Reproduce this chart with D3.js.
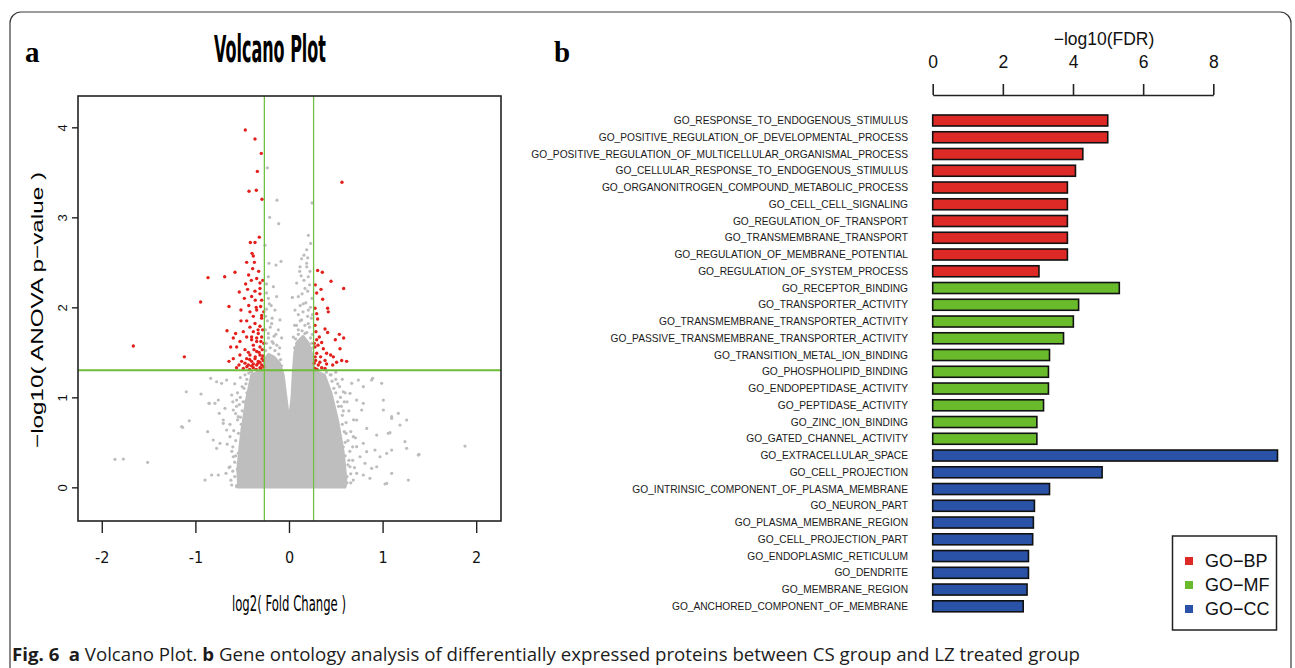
<!DOCTYPE html>
<html lang="en">
<head>
<meta charset="UTF-8" />
<title>Fig. 6</title>
<style>
  body { margin: 0; background: #fff; }
  svg { display: block; }
</style>
</head>
<body>
<svg id="fig" width="1295" height="668"></svg>
<script src="https://d3js.org/d3.v7.min.js"></script>
<script>
// ---- panel a: volcano plot data (log2 fold change, -log10 p) ----
const xTicks = [-2, -1, 0, 1, 2];
const yTicks = [0, 1, 2, 3, 4];
const fcCut = 0.263;   // log2(1.2)
const pCut = 1.301;    // -log10(0.05)

// outline of the dense grey cloud of non-significant proteins
const coreOutline = [
  [-0.54, 0.0], [-0.55, 0.2], [-0.51, 0.6], [-0.46, 0.95], [-0.40, 1.25],
  [-0.30, 1.30], [-0.264, 1.30], [-0.262, 1.42], [-0.22, 1.48], [-0.16, 1.45],
  [-0.10, 1.38], [-0.06, 1.25], [-0.03, 1.0], [0.0, 0.74], [0.03, 1.0],
  [0.045, 1.3], [0.06, 1.5], [0.09, 1.62], [0.15, 1.68], [0.21, 1.60],
  [0.255, 1.45], [0.265, 1.3], [0.38, 1.25], [0.45, 1.05], [0.52, 0.75],
  [0.58, 0.4], [0.61, 0.1], [0.60, 0.0]
];

const greyPoints = [
  // sparse points above the p cut-off
  [-0.231, 3.55], [-0.128, 3.19], [-0.207, 3.00], [-0.110, 2.93], [0.246, 3.16],
  [-0.256, 2.69], [-0.214, 2.49], [-0.139, 2.47], [-0.085, 2.51], [0.207, 2.80],
  [0.189, 2.64], [0.231, 2.71], [0.135, 2.54], [0.118, 2.45], [0.189, 2.49],
  [0.224, 2.40], [0.114, 2.40], [0.206, 2.34], [-0.221, 2.34], [-0.167, 2.23],
  [-0.239, 2.16], [-0.132, 2.12], [-0.210, 2.04], [-0.150, 1.97], [-0.096, 1.86],
  [-0.185, 1.82], [0.082, 2.27], [0.171, 2.21], [0.100, 2.12], [0.153, 2.04],
  [0.207, 1.97], [0.064, 1.97], [0.135, 1.86], [0.206, 1.82], [0.036, 2.11],
  [-0.114, 1.75], [-0.221, 1.71], [-0.078, 1.66], [-0.167, 1.60], [0.100, 1.75],
  [0.046, 1.67], [0.171, 1.71], [0.242, 1.60], [0.082, 1.60], [-0.250, 1.90],
  [-0.240, 2.26], [0.245, 2.10], [0.25, 1.92], [-0.10, 1.55], [0.06, 1.80],
  // left lobe
  [-0.25, 1.52], [-0.20, 1.55], [-0.15, 1.52], [-0.11, 1.48], [-0.24, 1.60],
  [-0.18, 1.62], [-0.13, 1.58], [-0.22, 1.66], [-0.16, 1.68], [-0.25, 1.75],
  [-0.20, 1.78], [-0.14, 1.70], [-0.23, 1.85], [-0.18, 1.88], [-0.24, 1.98],
  [-0.19, 2.02], [-0.22, 2.10], [-0.09, 1.42], [-0.08, 1.35], [-0.12, 1.40],
  // right lobe
  [0.06, 1.55], [0.10, 1.70], [0.14, 1.74], [0.19, 1.72], [0.23, 1.66],
  [0.08, 1.80], [0.12, 1.85], [0.17, 1.80], [0.22, 1.78], [0.25, 1.70],
  [0.10, 1.92], [0.15, 1.95], [0.20, 1.90], [0.24, 1.88], [0.12, 2.02],
  [0.18, 2.05], [0.23, 2.00], [0.14, 2.15], [0.20, 2.18], [0.16, 2.30],
  [0.22, 2.25], [0.13, 2.35], [0.19, 2.45], [0.16, 2.58], [0.20, 2.55],
  [0.07, 1.65], [0.25, 1.55],
  // scattered, left
  [-1.859, 0.311], [-1.770, 0.314], [-1.510, 0.278], [-1.097, 1.062], [-0.940, 1.037],
  [-1.136, 0.667], [-1.065, 0.740], [-0.897, 0.081], [-0.869, 0.618], [-0.851, 0.933],
  [-0.837, 1.211], [-0.773, 1.173], [-0.720, 1.156], [-0.666, 1.192], [-0.809, 0.526],
  [-0.773, 0.433], [-0.737, 0.489], [-0.791, 0.933], [-0.745, 0.822], [-0.684, 0.878],
  [-0.755, 0.137], [-0.673, 0.156], [-0.702, 0.711], [-0.666, 0.637], [-0.630, 0.563],
  [-0.612, 0.026], [-0.559, 0.007], [-0.595, 0.340], [-0.542, 0.267], [-0.630, 0.229],
  [-0.612, 1.026], [-0.559, 0.970], [-0.595, 0.859], [-0.542, 0.785], [-1.147, 0.674],
  [-0.826, 0.137], [-0.855, 0.933], [-0.755, 0.970], [-0.702, 0.748],
  // scattered, right
  [0.580, 1.062], [0.670, 1.156], [0.741, 1.192], [0.794, 1.118], [0.894, 1.211],
  [0.990, 1.156], [1.008, 0.970], [1.008, 0.859], [1.097, 0.785], [1.168, 0.822],
  [1.257, 0.748], [0.830, 0.655], [0.937, 0.581], [1.061, 0.600], [1.186, 0.692],
  [1.239, 0.507], [1.257, 0.433], [0.919, 0.414], [0.972, 0.340], [1.044, 0.378],
  [1.097, 0.414], [1.381, 0.359], [1.880, 0.459], [1.275, 0.081], [1.026, 0.037],
  [1.097, 0.156], [0.937, 0.229], [0.865, 0.100], [0.794, 0.137], [0.723, 0.970],
  [0.777, 0.859], [0.723, 0.748], [0.652, 1.044], [0.794, 0.933], [0.687, 0.563],
  [0.723, 0.452], [0.759, 0.340], [0.812, 0.267], [0.652, 0.229], [0.723, 0.156],
  [0.687, 0.081], [1.389, 0.367], [0.883, 1.193], [1.097, 0.767], [1.079, 0.607],
  [1.044, 0.044], [0.883, 0.211], [0.794, 0.489], [0.830, 0.396],
  // fuzzy edge of the cloud
  [-0.53, 0.05], [-0.55, 0.2], [-0.52, 0.45], [-0.54, 0.6], [-0.50, 0.85],
  [-0.48, 1.1], [-0.45, 1.2], [-0.43, 1.27], [-0.52, 1.0], [-0.57, 0.35],
  [-0.49, 0.55], [0.62, 0.05], [0.63, 0.25], [0.60, 0.5], [0.57, 0.7],
  [0.53, 0.9], [0.48, 1.1], [0.44, 1.25], [0.61, 0.6], [0.66, 0.15],
  [0.55, 1.0], [-0.58, 0.12], [-0.51, 0.7], [-0.47, 0.95], [0.58, 0.85],
  [0.65, 0.4], [0.52, 1.15], [-0.40, 1.28], [0.40, 1.28], [-0.56, 0.9],
  [-0.46, 1.15], [0.50, 1.2], [0.59, 0.95], [-0.60, 0.45], [0.68, 0.3],
  [-0.62, 0.08], [-0.60, 0.18], [-0.58, 0.28], [-0.61, 0.40], [-0.57, 0.52],
  [-0.59, 0.63], [-0.55, 0.75], [-0.57, 0.82], [-0.53, 0.92], [-0.55, 1.05],
  [-0.50, 1.12], [-0.52, 1.22], [-0.47, 1.25], [-0.45, 1.05], [-0.49, 0.95],
  [-0.52, 0.78], [-0.54, 0.38], [-0.53, 0.22], [-0.51, 0.10], [-0.56, 0.02],
  [-0.64, 0.22], [-0.66, 0.48], [-0.63, 0.70], [-0.60, 0.95], [-0.58, 1.15],
  [-0.50, 0.65], [-0.52, 0.30], [-0.48, 0.40],
  [0.62, 0.12], [0.64, 0.30], [0.60, 0.35], [0.63, 0.52], [0.59, 0.62],
  [0.61, 0.72], [0.57, 0.80], [0.56, 0.90], [0.60, 1.05], [0.54, 1.12],
  [0.50, 1.05], [0.46, 1.18], [0.50, 1.28], [0.57, 1.20], [0.66, 0.62],
  [0.68, 0.45], [0.70, 0.22], [0.59, 0.25], [0.58, 0.45], [0.53, 0.65],
  [0.55, 0.55], [0.64, 0.85], [0.62, 0.95], [0.52, 0.95], [0.45, 1.25],
  [0.69, 0.75], [0.71, 0.55], [0.60, 0.02], [0.66, 0.05]
];

const sigPoints = [
  [-0.467, 3.97], [-0.363, 3.87], [-0.296, 3.71], [-0.338, 3.51], [-0.427, 3.29],
  [-0.349, 3.30], [-0.288, 3.20], [0.566, 3.39], [-0.317, 2.78], [-0.413, 2.72],
  [-0.363, 2.72], [-0.395, 2.60], [-0.381, 2.57], [-0.452, 2.50], [-0.370, 2.50],
  [-0.388, 2.43], [-0.577, 2.39], [-0.687, 2.34], [-0.865, 2.33], [-0.431, 2.36],
  [-0.324, 2.40], [-0.402, 2.30], [-0.345, 2.32], [-0.463, 2.26], [-0.310, 2.27],
  [-0.531, 2.17], [-0.442, 2.20], [-0.363, 2.18], [-0.399, 2.12], [-0.310, 2.15],
  [-0.477, 2.10], [-0.360, 2.08], [-0.944, 2.06], [-0.641, 2.01], [-0.303, 2.01],
  [-0.513, 1.97], [-0.417, 1.95], [-0.345, 1.97], [-0.381, 1.90], [-0.292, 1.91],
  [-0.452, 1.85], [-0.513, 1.85], [-0.363, 1.82], [-0.417, 1.78], [-0.310, 1.79],
  [-0.662, 1.74], [-0.570, 1.71], [-0.488, 1.73], [-0.381, 1.73], [-0.328, 1.71],
  [-0.595, 1.66], [-0.452, 1.67], [-0.292, 1.67], [-0.524, 1.62], [-0.399, 1.64],
  [-0.345, 1.62], [-1.663, 1.57], [-0.623, 1.56], [-0.559, 1.56], [-0.381, 1.58],
  [-0.310, 1.56], [-0.470, 1.53], [-0.345, 1.51], [-1.118, 1.45], [-0.524, 1.47],
  [-0.417, 1.47], [-0.310, 1.47], [-0.595, 1.43], [-0.452, 1.43], [-0.363, 1.43],
  [-0.288, 1.43], [-0.641, 1.40], [-0.506, 1.40], [-0.399, 1.40], [-0.328, 1.40],
  [-0.534, 1.36], [-0.434, 1.36], [-0.345, 1.36], [-0.292, 1.36], [-0.488, 1.32],
  [-0.381, 1.33], [-0.310, 1.33], [-0.470, 1.38], [-0.381, 1.37], [-0.310, 1.39],
  [-0.274, 1.41], [-0.434, 1.50], [-0.374, 1.53], [-0.320, 1.50], [-0.285, 1.53],
  [-0.399, 1.67], [-0.345, 1.66], [-0.292, 1.88], [-0.281, 1.75], [-0.310, 2.21],
  [-0.292, 2.08], [-0.42, 1.31], [-0.35, 1.31], [-0.30, 1.32], [-0.27, 1.34],
  [-0.45, 1.34], [-0.56, 1.33], [-0.40, 1.35], [-0.33, 1.38], [-0.28, 1.46],
  [-0.36, 1.45], [-0.42, 1.42], [-0.30, 1.62], [-0.27, 1.60], [-0.33, 1.75],
  [-0.27, 1.95], [-0.35, 2.00], [-0.43, 2.02], [-0.28, 2.30],
  [0.306, 2.41], [0.356, 2.39], [0.449, 2.29], [0.281, 2.25], [0.342, 2.20],
  [0.584, 2.21], [0.296, 2.16], [0.360, 2.09], [0.278, 1.99], [0.413, 1.99],
  [0.296, 1.93], [0.420, 1.95], [0.306, 1.87], [0.278, 1.80], [0.385, 1.76],
  [0.413, 1.72], [0.538, 1.70], [0.288, 1.73], [0.324, 1.67], [0.584, 1.66],
  [0.495, 1.64], [0.296, 1.64], [0.349, 1.61], [0.278, 1.56], [0.367, 1.54],
  [0.545, 1.54], [0.402, 1.49], [0.445, 1.47], [0.296, 1.49], [0.338, 1.45],
  [0.474, 1.45], [0.285, 1.41], [0.385, 1.41], [0.563, 1.41], [0.616, 1.40],
  [0.313, 1.36], [0.402, 1.37], [0.467, 1.36], [0.509, 1.39], [0.278, 1.32],
  [0.349, 1.33], [0.385, 1.32], [0.27, 1.38], [0.30, 1.31], [0.33, 1.39],
  [0.28, 1.45], [0.27, 1.60], [0.31, 1.58]
];

// ---- panel b: GO enrichment (-log10 FDR) ----
const bpTerms = [
  'GO_RESPONSE_TO_ENDOGENOUS_STIMULUS',
  'GO_POSITIVE_REGULATION_OF_DEVELOPMENTAL_PROCESS',
  'GO_POSITIVE_REGULATION_OF_MULTICELLULAR_ORGANISMAL_PROCESS',
  'GO_CELLULAR_RESPONSE_TO_ENDOGENOUS_STIMULUS',
  'GO_ORGANONITROGEN_COMPOUND_METABOLIC_PROCESS',
  'GO_CELL_CELL_SIGNALING',
  'GO_REGULATION_OF_TRANSPORT',
  'GO_TRANSMEMBRANE_TRANSPORT',
  'GO_REGULATION_OF_MEMBRANE_POTENTIAL',
  'GO_REGULATION_OF_SYSTEM_PROCESS'
];
const bpValues = [4.99, 4.99, 4.28, 4.07, 3.84, 3.84, 3.84, 3.84, 3.84, 3.03];

const mfTerms = [
  'GO_RECEPTOR_BINDING',
  'GO_TRANSPORTER_ACTIVITY',
  'GO_TRANSMEMBRANE_TRANSPORTER_ACTIVITY',
  'GO_PASSIVE_TRANSMEMBRANE_TRANSPORTER_ACTIVITY',
  'GO_TRANSITION_METAL_ION_BINDING',
  'GO_PHOSPHOLIPID_BINDING',
  'GO_ENDOPEPTIDASE_ACTIVITY',
  'GO_PEPTIDASE_ACTIVITY',
  'GO_ZINC_ION_BINDING',
  'GO_GATED_CHANNEL_ACTIVITY'
];
const mfValues = [5.32, 4.16, 4.01, 3.73, 3.33, 3.30, 3.30, 3.16, 2.97, 2.97];

const ccTerms = [
  'GO_EXTRACELLULAR_SPACE',
  'GO_CELL_PROJECTION',
  'GO_INTRINSIC_COMPONENT_OF_PLASMA_MEMBRANE',
  'GO_NEURON_PART',
  'GO_PLASMA_MEMBRANE_REGION',
  'GO_CELL_PROJECTION_PART',
  'GO_ENDOPLASMIC_RETICULUM',
  'GO_DENDRITE',
  'GO_MEMBRANE_REGION',
  'GO_ANCHORED_COMPONENT_OF_MEMBRANE'
];
const ccValues = [9.83, 4.83, 3.33, 2.90, 2.87, 2.85, 2.73, 2.73, 2.69, 2.58];

const groupNames = ['GO\u2212BP', 'GO\u2212MF', 'GO\u2212CC'];
const fdrTicks = [0, 2, 4, 6, 8];

// ---- drawing ----
const colors = ['#de2a26', '#69bb2c', '#2a52a6'];
const narrow = '"Liberation Sans Narrow", "DejaVu Sans Condensed", "Liberation Sans", sans-serif';
const sans = '"Liberation Sans", Arial, sans-serif';
const svg = d3.select('#fig');

// outer frame of the figure
svg.append('rect')
  .attr('x', 10).attr('y', 12).attr('width', 1281).attr('height', 720)
  .attr('rx', 11)
  .attr('fill', 'none').attr('stroke', '#3a3a3a').attr('stroke-width', 1.2);

// panel letters
svg.append('text').attr('x', 25).attr('y', 62)
  .attr('font-family', '"Liberation Serif", serif').attr('font-weight', 'bold')
  .attr('font-size', 29).text('a');
svg.append('text').attr('x', 554).attr('y', 62)
  .attr('font-family', '"Liberation Serif", serif').attr('font-weight', 'bold')
  .attr('font-size', 29).text('b');

// ---------- volcano ----------
const vx = d3.scaleLinear().domain([-2.254, 2.265]).range([78, 501]);
const vy = d3.scaleLinear().domain([-0.374, 4.348]).range([521, 96]);

const volcano = svg.append('g');
volcano.append('clipPath').attr('id', 'vclip')
  .append('rect').attr('x', 78).attr('y', 96).attr('width', 423).attr('height', 425);
const plot = volcano.append('g').attr('clip-path', 'url(#vclip)');

plot.append('path')
  .attr('d', d3.line().x(d => vx(d[0])).y(d => vy(d[1])).curve(d3.curveLinearClosed)(coreOutline))
  .attr('fill', '#bebebe').attr('stroke', '#bebebe').attr('stroke-width', 2.5)
  .attr('stroke-linejoin', 'round');

plot.selectAll('.grey').data(greyPoints).join('circle')
  .attr('cx', d => vx(d[0])).attr('cy', d => vy(d[1])).attr('r', 1.6)
  .attr('fill', '#bdbdbd');

plot.selectAll('.sig').data(sigPoints).join('circle')
  .attr('cx', d => vx(d[0])).attr('cy', d => vy(d[1])).attr('r', 1.7)
  .attr('fill', '#e3201c');

// threshold lines
[-fcCut, fcCut].forEach(v => {
  plot.append('line')
    .attr('x1', vx(v)).attr('x2', vx(v)).attr('y1', 96).attr('y2', 521)
    .attr('stroke', '#74c043').attr('stroke-width', 1.3);
});
plot.append('line')
  .attr('x1', 78).attr('x2', 501).attr('y1', vy(pCut)).attr('y2', vy(pCut))
  .attr('stroke', '#6dbd3a').attr('stroke-width', 2);

volcano.append('rect')
  .attr('x', 78).attr('y', 96).attr('width', 423).attr('height', 425)
  .attr('fill', 'none').attr('stroke', '#222').attr('stroke-width', 1.6);

const xAxis = volcano.append('g')
  .attr('transform', 'translate(0,521)')
  .call(d3.axisBottom(vx).tickValues(xTicks).tickSize(12).tickSizeOuter(0).tickPadding(19)
    .tickFormat(d => d < 0 ? '-' + Math.abs(d) : String(d)));
xAxis.select('.domain').remove();
xAxis.selectAll('line').attr('stroke', '#222').attr('stroke-width', 1.4);
xAxis.selectAll('text')
  .attr('font-family', narrow).attr('font-size', 16).attr('fill', '#111');

const yAxis = volcano.append('g')
  .attr('transform', 'translate(78,0)')
  .call(d3.axisLeft(vy).tickValues(yTicks).tickSize(6).tickSizeOuter(0)
    .tickFormat(d3.format('d')));
yAxis.select('.domain').remove();
yAxis.selectAll('line').attr('stroke', '#222').attr('stroke-width', 1.4);
yAxis.selectAll('text')
  .attr('x', null).attr('dy', null)
  .attr('transform', 'translate(-11,0) rotate(-90)')
  .attr('text-anchor', 'middle')
  .attr('font-family', sans).attr('font-size', 13).attr('fill', '#111');

volcano.append('text')
  .attr('x', 270).attr('y', 62)
  .attr('text-anchor', 'middle')
  .attr('font-family', narrow).attr('font-weight', 'bold').attr('font-size', 37)
  .attr('textLength', 112).attr('lengthAdjust', 'spacingAndGlyphs')
  .text('Volcano Plot');

volcano.append('text')
  .attr('x', 289).attr('y', 611)
  .attr('text-anchor', 'middle')
  .attr('font-family', narrow).attr('font-size', 21)
  .attr('textLength', 114).attr('lengthAdjust', 'spacingAndGlyphs')
  .text('log2( Fold Change )');

volcano.append('text')
  .attr('transform', 'translate(43,310) rotate(-90)')
  .attr('text-anchor', 'middle')
  .attr('font-family', sans).attr('font-size', 17)
  .attr('textLength', 276).attr('lengthAdjust', 'spacingAndGlyphs')
  .text('\u2212log10( ANOVA p\u2212value )');

// ---------- GO bars ----------
const goRows = [];
[[bpTerms, bpValues], [mfTerms, mfValues], [ccTerms, ccValues]].forEach(([terms, vals], g) => {
  terms.forEach((t, i) => goRows.push({ term: t, value: vals[i], group: g }));
});

const bx = d3.scaleLinear().domain([0, 8]).range([932.7, 1213.3]);
const by = d3.scalePoint().domain(goRows.map(d => d.term)).range([120.5, 606.3]);
const barH = 11;

const bars = svg.append('g');
bars.selectAll('rect').data(goRows).join('rect')
  .attr('x', bx(0)).attr('y', d => by(d.term) - barH / 2)
  .attr('width', d => bx(d.value) - bx(0)).attr('height', barH)
  .attr('fill', d => colors[d.group])
  .attr('stroke', '#111').attr('stroke-width', 1.6);

bars.selectAll('.lab').data(goRows).join('text')
  .attr('x', 908).attr('y', d => by(d.term)).attr('dy', '0.35em')
  .attr('text-anchor', 'end')
  .attr('font-family', sans).attr('font-size', 10.2).attr('fill', '#1a1a1a')
  .text(d => d.term);

const topAxis = svg.append('g')
  .attr('transform', 'translate(0,95)')
  .call(d3.axisTop(bx).tickValues(fdrTicks).tickSize(11).tickSizeOuter(0).tickPadding(16));
topAxis.select('.domain').attr('stroke', '#222').attr('stroke-width', 1.6);
topAxis.selectAll('line').attr('stroke', '#222').attr('stroke-width', 1.6);
topAxis.selectAll('text')
  .attr('font-family', sans).attr('font-size', 17.5).attr('fill', '#111');

svg.append('text')
  .attr('x', 1104).attr('y', 45).attr('text-anchor', 'middle')
  .attr('font-family', sans).attr('font-size', 17.5).attr('fill', '#111')
  .text('\u2212log10(FDR)');

// legend
const legend = svg.append('g');
legend.append('rect')
  .attr('x', 1172.5).attr('y', 536).attr('width', 104).attr('height', 94)
  .attr('fill', '#fff').attr('stroke', '#222').attr('stroke-width', 1.5);
const legendY = d3.scalePoint().domain(groupNames).range([561, 609]);
legend.selectAll('.sw').data(groupNames).join('rect')
  .attr('x', 1185).attr('y', d => legendY(d) - 4).attr('width', 8).attr('height', 8)
  .attr('fill', (d, i) => colors[i]);
legend.selectAll('.lt').data(groupNames).join('text')
  .attr('x', 1205).attr('y', d => legendY(d) + 6)
  .attr('font-family', sans).attr('font-size', 18).attr('fill', '#111')
  .text(d => d);

// caption
const cap = svg.append('text')
  .attr('x', 12).attr('y', 661)
  .attr('font-family', '"Open Sans", "Noto Sans", sans-serif').attr('font-size', 17.5)
  .attr('fill', '#1c1c1c')
  .attr('textLength', 1068).attr('lengthAdjust', 'spacingAndGlyphs');
cap.append('tspan').attr('font-weight', 'bold').text('Fig. 6');
cap.append('tspan').text('\u2002');
cap.append('tspan').attr('font-weight', 'bold').text('a');
cap.append('tspan').text(' Volcano Plot. ');
cap.append('tspan').attr('font-weight', 'bold').text('b');
cap.append('tspan').text(' Gene ontology analysis of differentially expressed proteins between CS group and LZ treated group');
</script>
</body>
</html>
